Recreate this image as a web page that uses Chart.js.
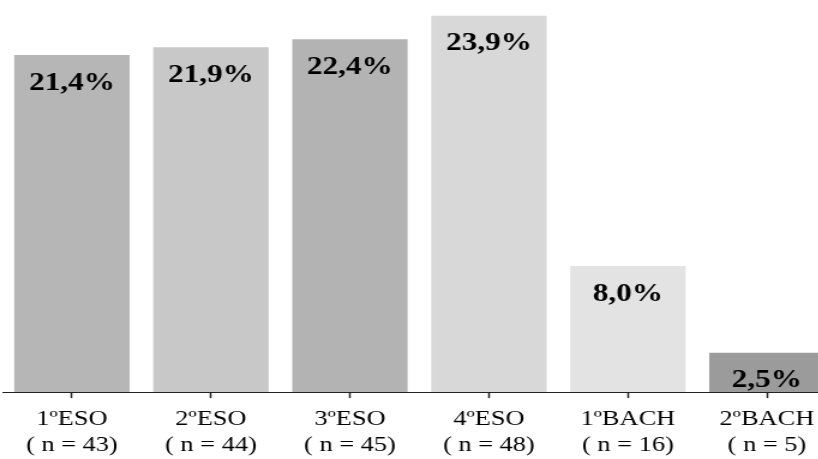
<!DOCTYPE html>
<html>
<head>
<meta charset="utf-8">
<script src="https://cdn.jsdelivr.net/npm/chart.js@4"></script>
<style>
  html, body { margin: 0; padding: 0; background: #fff; overflow: hidden; }
  #caja { width: 697px; height: 459px; transform: scaleX(1.2); transform-origin: 0 0; }
</style>
</head>
<body>
<div id="caja"><canvas id="grafico"></canvas></div>
<script>
const cursos = ["1ºESO", "2ºESO", "3ºESO", "4ºESO", "1ºBACH", "2ºBACH"];
const muestras = ["( n = 43)", "( n = 44)", "( n = 45)", "( n = 48)", "( n = 16)", "( n = 5)"];
const porcentajes = [21.4, 21.9, 22.4, 23.9, 8.0, 2.5];
const colores = ["#b6b6b6", "#c8c8c8", "#b3b3b3", "#d8d8d8", "#e3e3e3", "#9b9b9b"];

const fuente = "'Liberation Serif', 'Times New Roman', Times, serif";
const grafico = document.querySelector("#grafico");

// etiquetas de porcentaje dentro de cada barra
const etiquetas = {
  id: "etiquetas",
  afterDatasetsDraw(chart) {
    const ctx = chart.ctx;
    const meta = chart.getDatasetMeta(0);
    ctx.save();
    ctx.font = "bold 26px " + fuente;
    ctx.fillStyle = "#000";
    ctx.textAlign = "center";
    ctx.textBaseline = "middle";
    meta.data.forEach((bar, i) => {
      const txt = porcentajes[i].toFixed(1).replace(".", ",") + "%";
      ctx.fillText(txt, bar.x, bar.y + 28);
    });
    ctx.restore();
  },
};

function dibujar() {
  new Chart(grafico, {
    type: "bar",
    data: {
      labels: cursos.map((c, i) => [c, muestras[i]]),
      datasets: [
        {
          data: porcentajes,
          backgroundColor: colores,
          borderWidth: 0,
          barPercentage: 0.83,
          categoryPercentage: 1,
        },
      ],
    },
    options: {
      responsive: true,
      maintainAspectRatio: false,
      animation: false,
      events: [],
      layout: { padding: { left: 2, right: 0, top: 0, bottom: -7 } },
      plugins: { legend: { display: false }, tooltip: { enabled: false } },
      scales: {
        y: { display: false, min: 0, max: 24.9 },
        x: {
          border: { display: true, color: "#222", width: 1 },
          grid: {
            drawOnChartArea: false,
            offset: false,
            color: "#222",
            tickLength: 6,
            tickWidth: 1.5,
          },
          ticks: {
            color: "#000",
            padding: 8,
            maxRotation: 0,
            font: { family: fuente, size: 22, lineHeight: 1.18 },
          },
        },
      },
    },
    plugins: [etiquetas],
  });
}

Promise.all([
  document.fonts.load("22px 'Liberation Serif'"),
  document.fonts.load("bold 26px 'Liberation Serif'"),
]).then(dibujar, dibujar);
</script>
</body>
</html>
